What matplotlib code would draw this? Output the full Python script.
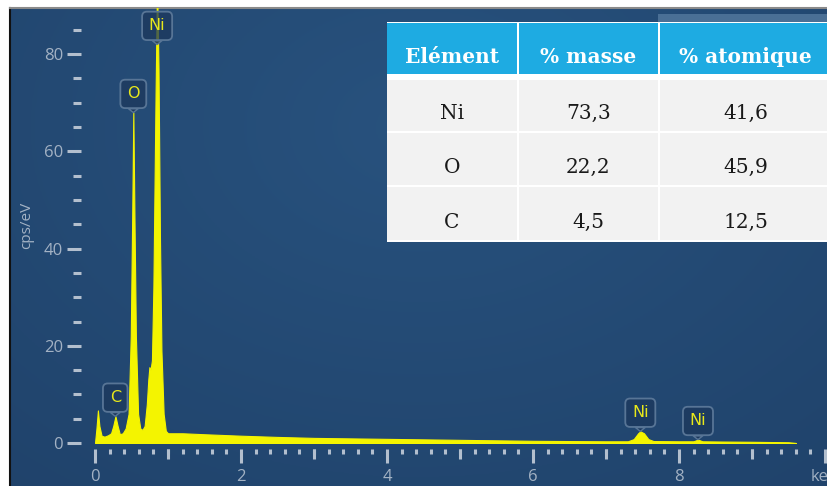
"""Spectre EDS d'un échantillon Ni/O/C avec tableau de composition"""
import numpy as np
import matplotlib
matplotlib.use('Agg')
import matplotlib.pyplot as plt
from matplotlib.patches import Rectangle
from matplotlib.ticker import MultipleLocator, FixedLocator
from matplotlib.colors import to_rgb

# Spectre (energie en keV, intensite en cps/eV)
energie = [0.00, 0.02, 0.04, 0.06, 0.09, 0.13, 0.18, 0.22, 0.25, 0.28,
           0.31, 0.34, 0.38, 0.42, 0.46, 0.49, 0.51, 0.525, 0.54, 0.56,
           0.59, 0.62, 0.65, 0.68, 0.71, 0.73, 0.745, 0.76, 0.78, 0.80,
           0.83, 0.85, 0.87, 0.89, 0.91, 0.94, 0.97, 1.00, 1.2, 1.5,
           2.0, 2.5, 3.0, 3.5, 4.0, 4.5, 5.0, 5.5, 6.0, 6.5,
           7.0, 7.3, 7.38, 7.44, 7.47, 7.52, 7.58, 7.65, 8.0, 8.2,
           8.26, 8.32, 8.6, 9.0, 9.5, 9.6]
intensite = [0.0, 3.0, 6.7, 3.5, 1.5, 1.3, 1.6, 2.0, 3.5, 5.5,
             3.5, 1.8, 2.0, 3.0, 6.0, 22.0, 47.0, 68.0, 47.0, 22.0,
             6.0, 3.0, 2.7, 3.5, 8.0, 13.0, 15.6, 15.0, 17.0, 32.0,
             72.0, 95.0, 77.0, 42.0, 19.0, 6.0, 2.5, 2.0, 2.0, 1.8,
             1.5, 1.25, 1.05, 0.95, 0.85, 0.75, 0.65, 0.55, 0.45, 0.4,
             0.35, 0.35, 0.8, 2.0, 2.4, 2.0, 0.8, 0.4, 0.35, 0.35,
             0.7, 0.35, 0.3, 0.25, 0.15, 0.0]

# Etiquettes des raies
raies_nom = ['C', 'O', 'Ni', 'Ni', 'Ni']
raies_energie = [0.277, 0.525, 0.851, 7.47, 8.26]
raies_ancrage = [5.5, 68.0, 82.0, 2.4, 0.7]

# Axes
x_ticks = [0, 2, 4, 6, 8, 10]
x_ticklabels = ['0', '2', '4', '6', '8', 'keV']
x_ticks_moyens = [1, 3, 5, 7, 9]
y_ticks = [0, 20, 40, 60, 80]

# Tableau de composition
tab_entete = ['Elément', '% masse', '% atomique']
tab_element = ['Ni', 'O', 'C']
tab_masse = [73.3, 22.2, 4.5]
tab_atomique = [41.6, 45.9, 12.5]

W, H = 828, 486
JAUNE = '#f4f400'
TICK_C = '#b3bfce'
LABEL_C = '#a3b2c4'

fig = plt.figure(figsize=(W / 100, H / 100), dpi=100, facecolor='white')


def fig_box(x0, y0, x1, y1):
    """rectangle en pixels (origine en haut a gauche) -> coordonnees figure"""
    return [x0 / W, 1 - y1 / H, (x1 - x0) / W, (y1 - y0) / H]


# Fond bleu degrade
ax_bg = fig.add_axes(fig_box(10, 8, W, H), zorder=0)
gx, gy = np.meshgrid(np.linspace(0, 1, 300), np.linspace(0, 1, 200))
d = np.clip(np.sqrt(((gx - 0.5) / 0.9) ** 2 + ((gy - 0.25) / 1.1) ** 2), 0, 1)
c_centre = np.array(to_rgb('#28527e'))
c_bord = np.array(to_rgb('#1f4169'))
img = c_centre[None, None, :] * (1 - d[..., None]) + c_bord[None, None, :] * d[..., None]
ax_bg.imshow(img, aspect='auto', extent=(0, 1, 0, 1), origin='upper')
ax_bg.set_xticks([])
ax_bg.set_yticks([])
for s in ['right', 'bottom']:
    ax_bg.spines[s].set_visible(False)
ax_bg.spines['left'].set_color('#111111')
ax_bg.spines['left'].set_linewidth(1.5)
ax_bg.spines['top'].set_color('#8a8a8a')
ax_bg.spines['top'].set_linewidth(1.5)

# Spectre
ax = fig.add_axes(fig_box(95, 8, W, 443), zorder=1)
ax.patch.set_alpha(0)
ax.fill_between(energie, intensite, 0, color=JAUNE, lw=0.8, edgecolor=JAUNE)
ax.set_xlim(0, (W - 95) / 73)
ax.set_ylim(0, 435 / 4.86)

for s in ax.spines.values():
    s.set_visible(False)
ax.spines['left'].set_position(('outward', 10))
ax.spines['bottom'].set_position(('outward', 4))

ax.yaxis.set_major_locator(FixedLocator(y_ticks))
ax.yaxis.set_minor_locator(MultipleLocator(5))
ax.xaxis.set_major_locator(FixedLocator(x_ticks))
ax.xaxis.set_minor_locator(MultipleLocator(0.2))
ax.set_xticklabels(x_ticklabels)

ax.tick_params(axis='y', which='major', length=10, width=2.2, color=TICK_C,
               labelcolor=LABEL_C, labelsize=12, pad=3)
ax.tick_params(axis='y', which='minor', length=5.8, width=2.2, color=TICK_C)
ax.tick_params(axis='x', which='major', length=10, width=2.2, color=TICK_C,
               labelcolor=LABEL_C, labelsize=12, pad=5)
ax.tick_params(axis='x', which='minor', length=3.6, width=2.2, color=TICK_C)
for lab in ax.get_xticklabels() + ax.get_yticklabels():
    lab.set_family('Open Sans')
ax.set_ylabel('cps/eV', color=LABEL_C, fontsize=11, family='Open Sans', labelpad=7)

# graduations intermediaires (1, 3, 5...)
ax2 = ax.twiny()
ax2.patch.set_alpha(0)
ax2.set_xlim(ax.get_xlim())
for s in ax2.spines.values():
    s.set_visible(False)
ax2.xaxis.set_ticks_position('bottom')
ax2.spines['bottom'].set_position(('outward', 4))
ax2.set_xticks(x_ticks_moyens)
ax2.tick_params(axis='x', length=7, width=2.2, color=TICK_C,
                labelbottom=False, labeltop=False)

# Etiquettes des raies
for nom, e, h in zip(raies_nom, raies_energie, raies_ancrage):
    ax.annotate(nom, xy=(e, h), xytext=(0, 8), textcoords='offset points',
                ha='center', va='bottom', color='#e8e81a', fontsize=11.5,
                family='DejaVu Sans', zorder=5, annotation_clip=False,
                bbox=dict(boxstyle='round,pad=0.42,rounding_size=0.3',
                          fc=(0.11, 0.22, 0.36, 0.75), ec='#587596', lw=1.3),
                arrowprops=dict(arrowstyle='wedge,tail_width=0.6,shrink_factor=0.5',
                                fc=(0.11, 0.22, 0.36, 0.9), ec='#587596', lw=1.0,
                                shrinkA=0, shrinkB=0))

# Tableau (calque en pixels)
ax_t = fig.add_axes([0, 0, 1, 1], zorder=3)
ax_t.set_xlim(0, W)
ax_t.set_ylim(H, 0)
ax_t.axis('off')
ax_t.add_patch(Rectangle((658, 14), W - 658, 8, color='#4a6f95', lw=0))
ax_t.add_patch(Rectangle((387, 22), 445, 220, color='white', lw=0))

colonnes = [(387, 517), (519, 658), (660, 831)]
lignes = [(80, 131), (133, 185), (187, 240)]
base_lignes = [119, 173, 228]

for (x0, x1), txt in zip(colonnes, tab_entete):
    ax_t.add_patch(Rectangle((x0, 23), x1 - x0, 51, color='#1eabe2', lw=0))
    ax_t.text((x0 + x1) / 2, 63, txt, ha='center', va='baseline', color='white',
              fontsize=14.5, fontweight='bold', family='DejaVu Serif')

for i, (y0, y1) in enumerate(lignes):
    cells = [tab_element[i],
             f"{tab_masse[i]:.1f}".replace('.', ','),
             f"{tab_atomique[i]:.1f}".replace('.', ',')]
    for (x0, x1), txt in zip(colonnes, cells):
        ax_t.add_patch(Rectangle((x0, y0), x1 - x0, y1 - y0, color='#f2f2f2', lw=0))
        ax_t.text((x0 + x1) / 2, base_lignes[i], txt, ha='center', va='baseline',
                  color='#1a1a1a', fontsize=14.5, family='DejaVu Serif')

plt.savefig('out.png', dpi=100, facecolor='white')
